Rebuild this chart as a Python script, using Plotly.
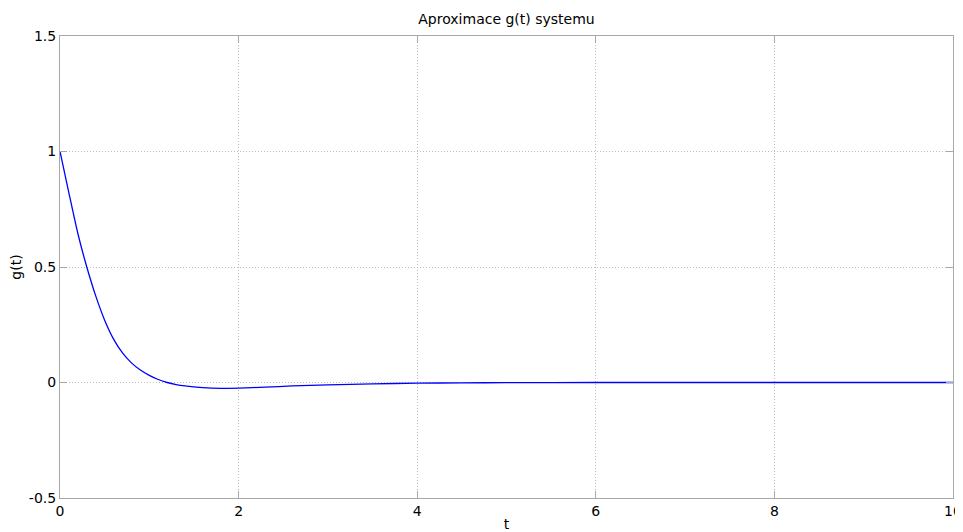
import plotly.graph_objects as go

t_vals = [0, 0.1, 0.2, 0.3, 0.4, 0.5, 0.6, 0.7, 0.8, 0.9, 1.0, 1.1, 1.2, 1.3, 1.4, 1.6, 1.8, 2.0,
          2.3, 2.6, 3.0, 3.5, 4.0, 4.5, 5.0, 6.0, 7.0, 8.0, 9.0, 10.0]
g_vals = [1.0, 0.82, 0.645, 0.50, 0.375, 0.27, 0.188, 0.128, 0.085, 0.054, 0.031, 0.013, 0.0,
          -0.009, -0.015, -0.022, -0.025, -0.024, -0.020, -0.015, -0.010, -0.006, -0.003, -0.0015,
          -0.0007, 0.0, 0.0, 0.0, 0.0, 0.0]

x_ticks = [0, 2, 4, 6, 8, 10]
y_ticks = [-0.5, 0, 0.5, 1, 1.5]
y_tick_text = ["-0.5", "0", "0.5", "1", "1.5"]

fig = go.Figure()
fig.add_trace(go.Scatter(x=t_vals, y=g_vals, mode="lines",
                         line=dict(color="#0000ff", width=1.3, shape="spline", smoothing=0.6),
                         showlegend=False, hoverinfo="skip"))

axis_common = dict(showline=True, linecolor="#a8a8a8", linewidth=1, mirror="ticks",
                   ticks="inside", ticklen=7, tickcolor="#a8a8a8",
                   showgrid=True, gridcolor="#bcbcbc", griddash="1px,2px", gridwidth=1,
                   zeroline=False, automargin=False,
                   tickfont=dict(family="DejaVu Sans", size=14, color="#000000"))

fig.update_xaxes(range=[0, 10], tickvals=x_ticks, ticktext=[str(v) for v in x_ticks],
                 title=dict(text="t", standoff=13, font=dict(family="DejaVu Sans", size=14, color="#000")),
                 **axis_common)
fig.update_yaxes(range=[-0.5, 1.5], tickvals=y_ticks, ticktext=y_tick_text,
                 title=dict(text="g(t)", standoff=3, font=dict(family="DejaVu Sans", size=14, color="#000")),
                 **axis_common)

fig.update_layout(
    width=963, height=524,
    margin=dict(l=52, r=18, t=28, b=34),
    paper_bgcolor="white", plot_bgcolor="white",
    title=dict(text="Aproximace g(t) systemu", xref="paper", x=0.5, xanchor="center",
               y=0.979, yanchor="middle",
               font=dict(family="DejaVu Sans", size=14, color="#000")),
)

fig.write_html("out.html",
               post_script="document.documentElement.style.overflow='hidden';"
                           "document.body.style.overflow='hidden';")
